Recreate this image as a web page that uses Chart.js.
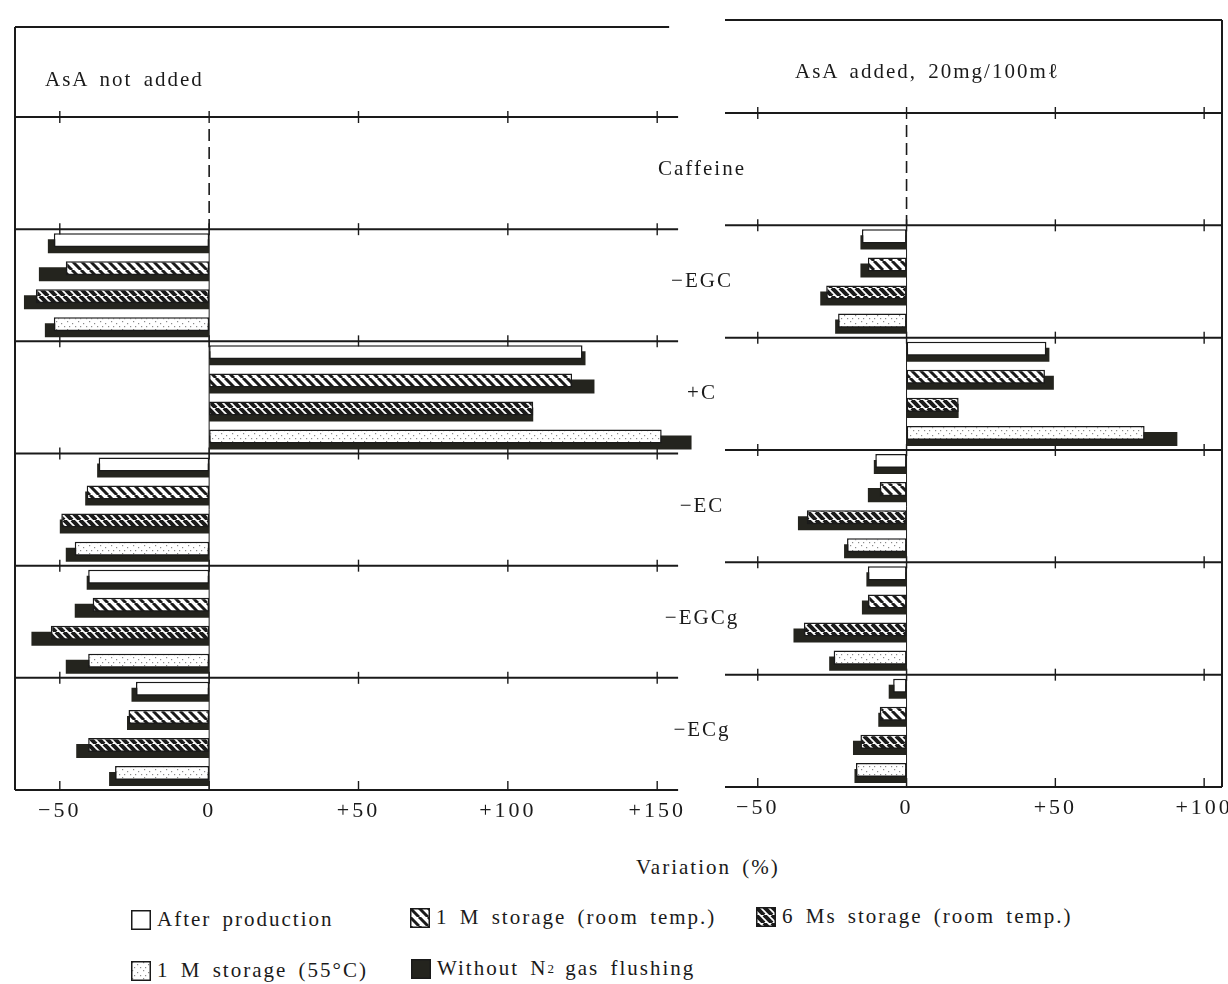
<!DOCTYPE html>
<html>
<head>
<meta charset="utf-8">
<script src="https://cdn.jsdelivr.net/npm/chart.js@4.4.1/dist/chart.umd.min.js"></script>
<style>
  html, body { margin: 0; background: #fff; }
  body { width: 1228px; height: 984px; position: relative; overflow: hidden;
         font-family: 'Liberation Serif', serif; color: #1a1a1a; letter-spacing: 2px; word-spacing: 4px; }
  canvas.panel { position: absolute; top: 0; }
  #leftPanel { left: 0; }
  #rightPanel { left: 640px; }
  .note { position: absolute; font-size: 21px; line-height: 1; white-space: nowrap; }
  .key { position: absolute; display: flex; align-items: center; font-size: 21px; line-height: 1; white-space: pre; }
  .key canvas { margin-right: 6px; }
  sub { font-size: 13px; vertical-align: -3px; letter-spacing: 0; }
</style>
</head>
<body>
<canvas id="leftPanel" class="panel" width="720" height="840"></canvas>
<canvas id="rightPanel" class="panel" width="610" height="840"></canvas>

<div class="note" style="left:45px; top:69px;">AsA not added</div>
<div class="note" style="left:795px; top:61px;">AsA added, 20mg/100mℓ</div>
<div class="note" style="left:636px; top:857px;">Variation (%)</div>

<div class="key" style="left:131px; top:909px;"><canvas id="key0" width="20" height="20"></canvas>After production</div>
<div class="key" style="left:410px; top:907px;"><canvas id="key1" width="20" height="20"></canvas>1 M storage (room temp.)</div>
<div class="key" style="left:756px; top:906px;"><canvas id="key2" width="20" height="20"></canvas>6 Ms storage (room temp.)</div>
<div class="key" style="left:131px; top:960px;"><canvas id="key3" width="20" height="20"></canvas>1 M storage (55°C)</div>
<div class="key" style="left:411px; top:958px;"><canvas id="key4" width="20" height="20"></canvas>Without N<sub>2</sub> gas flushing</div>

<script>
// ---------- data ----------
const compounds = ['Caffeine', '−EGC', '+C', '−EC', '−EGCg', '−ECg'];
const conditions = ['After production', '1 M storage (room temp.)', '6 Ms storage (room temp.)', '1 M storage (55°C)'];
const leftTicks = [-50, 0, 50, 100, 150];
const rightTicks = [-50, 0, 50, 100];

// AsA not added
const noAsaAfterProd     = [null, -52, 125,   -37,   -40.5, -24.5];
const noAsaOneMonthRoom  = [null, -48, 121.5, -41,   -39,   -27];
const noAsaSixMonthsRoom = [null, -58, 108.5, -49.5, -53,   -40.5];
const noAsaOneMonthHot   = [null, -52, 151.5, -45,   -40.5, -31.5];
// AsA not added, without N2 gas flushing
const noAsaNoN2AfterProd     = [null, -54, 126,   -37.5, -41,   -26];
const noAsaNoN2OneMonthRoom  = [null, -57, 129,   -41.5, -45,   -27.5];
const noAsaNoN2SixMonthsRoom = [null, -62, 108.5, -50,   -59.5, -44.5];
const noAsaNoN2OneMonthHot   = [null, -55, 161.5, -48,   -48,   -33.5];

// AsA added, 20mg/100ml
const asaAfterProd     = [null, -15, 47,   -10.5, -13,   -4.5];
const asaOneMonthRoom  = [null, -13, 46.5, -9,    -13,   -9];
const asaSixMonthsRoom = [null, -27, 17.5, -33.5, -34.5, -15.5];
const asaOneMonthHot   = [null, -23, 80,   -20,   -24.5, -17];
// AsA added, without N2 gas flushing
const asaNoN2AfterProd     = [null, -15.5, 48,   -11,   -13.5, -6];
const asaNoN2OneMonthRoom  = [null, -15.5, 49.5, -13,   -15,   -9.5];
const asaNoN2SixMonthsRoom = [null, -29,   17.5, -36.5, -38,   -18];
const asaNoN2OneMonthHot   = [null, -24,   91,   -21,   -26,   -17.5];

// ---------- fills ----------
const ink = '#1a1a1a';
const shadowInk = '#24241e';

function tile(w, h, paint) {
  const c = document.createElement('canvas');
  c.width = w; c.height = h;
  const g = c.getContext('2d');
  g.fillStyle = '#fff';
  g.fillRect(0, 0, w, h);
  paint(g);
  return g.createPattern(c, 'repeat');
}

// "\" stripes
function stripes(gap, weight) {
  return tile(gap, gap, g => {
    g.strokeStyle = ink;
    g.lineWidth = weight;
    for (const o of [-gap, 0, gap]) {
      g.beginPath(); g.moveTo(o, 0); g.lineTo(o + gap, gap); g.stroke();
    }
  });
}

const stipple = tile(11, 8, g => {
  g.fillStyle = '#8a8a8a';
  [[1, 1], [6, 3], [9, 6], [3, 6]].forEach(([x, y]) => g.fillRect(x, y, 1.2, 1.2));
});

const fills = ['#ffffff', stripes(9, 3), stripes(8, 4), stipple];

// ---------- plugins ----------
// each front bar sits a little above its slot centre, its "without N2" bar a little below
const shadowShift = {
  id: 'shadowShift',
  afterDatasetsUpdate(chart) {
    chart.data.datasets.forEach((ds, i) => {
      const dy = ds.shadow ? 3 : -3;
      chart.getDatasetMeta(i).data.forEach(bar => { bar.y += dy; });
    });
  }
};

function makeFrame(cfg) {
  return {
    id: 'panelFrame',
    beforeDraw(chart) { chart.ctx.letterSpacing = '3px'; },
    beforeDatasetsDraw(chart) {
      const { ctx, chartArea: area, scales: { x, y } } = chart;
      const rows = chart.data.labels.length;
      const xEnd = x.getPixelForValue(cfg.lineEnd);
      const zero = x.getPixelForValue(0);
      const rowEdge = r => y.getPixelForValue(r - 0.5);
      const seg = (x1, y1, x2, y2) => { ctx.beginPath(); ctx.moveTo(x1, y1); ctx.lineTo(x2, y2); ctx.stroke(); };

      ctx.save();
      ctx.strokeStyle = ink;
      ctx.lineWidth = 2;
      seg(area.left - cfg.overhang, cfg.frameTop, x.getPixelForValue(cfg.frameEnd), cfg.frameTop);
      const side = cfg.border === 'left' ? area.left : area.right;
      seg(side, cfg.frameTop, side, area.bottom);

      for (let r = 0; r <= rows; r++) {
        const yy = rowEdge(r);
        ctx.lineWidth = 2;
        seg(area.left - cfg.overhang, yy, xEnd, yy);
        ctx.lineWidth = 1.4;
        cfg.ticks.forEach(v => {
          const px = x.getPixelForValue(v);
          if (r === rows) seg(px, yy - 9, px, yy);
          else seg(px, yy - 6, px, yy + 6);
        });
      }

      // zero line: dashed through the empty caffeine row, thin and solid below
      ctx.lineWidth = 1.6;
      ctx.setLineDash([12, 6]);
      seg(zero, rowEdge(0) + 12, zero, rowEdge(1));
      ctx.setLineDash([]);
      ctx.lineWidth = 1;
      seg(zero, rowEdge(1), zero, area.bottom);
      ctx.restore();
    },
    afterDatasetsDraw(chart) {
      if (!cfg.names) return;
      const { ctx, chartArea: area, scales: { y } } = chart;
      ctx.save();
      ctx.font = '21px "Liberation Serif"';
      ctx.letterSpacing = '2px';
      ctx.fillStyle = ink;
      ctx.textAlign = 'center';
      ctx.textBaseline = 'middle';
      chart.data.labels.forEach((name, i) => ctx.fillText(name, area.left - 26, y.getPixelForValue(i)));
      ctx.restore();
    }
  };
}

Chart.defaults.font.family = '"Liberation Serif", serif';
Chart.defaults.color = ink;

function signed(v) {
  if (v > 0) return '+' + v;
  if (v < 0) return '−' + Math.abs(v);
  return '0';
}

function buildPanel(id, cfg) {
  const fronts = cfg.series.map((data, i) => ({
    label: conditions[i], data,
    backgroundColor: fills[i], borderColor: ink, borderWidth: 1.5, borderSkipped: false,
    stack: 'c' + i
  }));
  const shadows = cfg.shadows.map((data, i) => ({
    label: 'Without N₂ gas flushing', data,
    backgroundColor: shadowInk, borderWidth: 0,
    stack: 'c' + i, shadow: true
  }));

  return new Chart(document.getElementById(id), {
    type: 'bar',
    data: { labels: compounds, datasets: [...fronts, ...shadows] },
    options: {
      indexAxis: 'y',
      responsive: false,
      animation: false,
      events: [],
      categoryPercentage: 1,
      barPercentage: 0.5,
      layout: { padding: cfg.padding, autoPadding: false },
      plugins: { legend: { display: false }, tooltip: { enabled: false } },
      scales: {
        x: {
          type: 'linear', min: cfg.min, max: cfg.max, stacked: false,
          grid: { display: false, drawTicks: false },
          border: { display: false },
          afterBuildTicks: axis => { axis.ticks = cfg.ticks.map(value => ({ value })); },
          afterFit: axis => { axis.height = 40; },
          ticks: { padding: 8, font: { size: 22 }, color: ink, callback: signed }
        },
        y: { type: 'category', display: false, stacked: true, offset: true }
      }
    },
    plugins: [shadowShift, makeFrame(cfg)]
  });
}

buildPanel('leftPanel', {
  series: [noAsaAfterProd, noAsaOneMonthRoom, noAsaSixMonthsRoom, noAsaOneMonthHot],
  shadows: [noAsaNoN2AfterProd, noAsaNoN2OneMonthRoom, noAsaNoN2SixMonthsRoom, noAsaNoN2OneMonthHot],
  min: -65, max: 165, ticks: leftTicks, lineEnd: 157, frameEnd: 154, overhang: 0,
  padding: { left: 15, top: 117, right: 18, bottom: 10 },
  frameTop: 27, border: 'left', names: false
});

buildPanel('rightPanel', {
  series: [asaAfterProd, asaOneMonthRoom, asaSixMonthsRoom, asaOneMonthHot],
  shadows: [asaNoN2AfterProd, asaNoN2OneMonthRoom, asaNoN2SixMonthsRoom, asaNoN2OneMonthHot],
  min: -60, max: 106, ticks: rightTicks, lineEnd: 106, frameEnd: 106, overhang: 3,
  padding: { left: 88, top: 113, right: 28, bottom: 13 },
  frameTop: 20, border: 'right', names: true
});

// ---------- legend swatches ----------
[...fills, shadowInk].forEach((fill, i) => {
  const g = document.getElementById('key' + i).getContext('2d');
  g.fillStyle = fill;
  g.fillRect(0, 0, 20, 20);
  g.strokeStyle = ink;
  g.lineWidth = 1.5;
  g.strokeRect(0.75, 0.75, 18.5, 18.5);
});
</script>
</body>
</html>
